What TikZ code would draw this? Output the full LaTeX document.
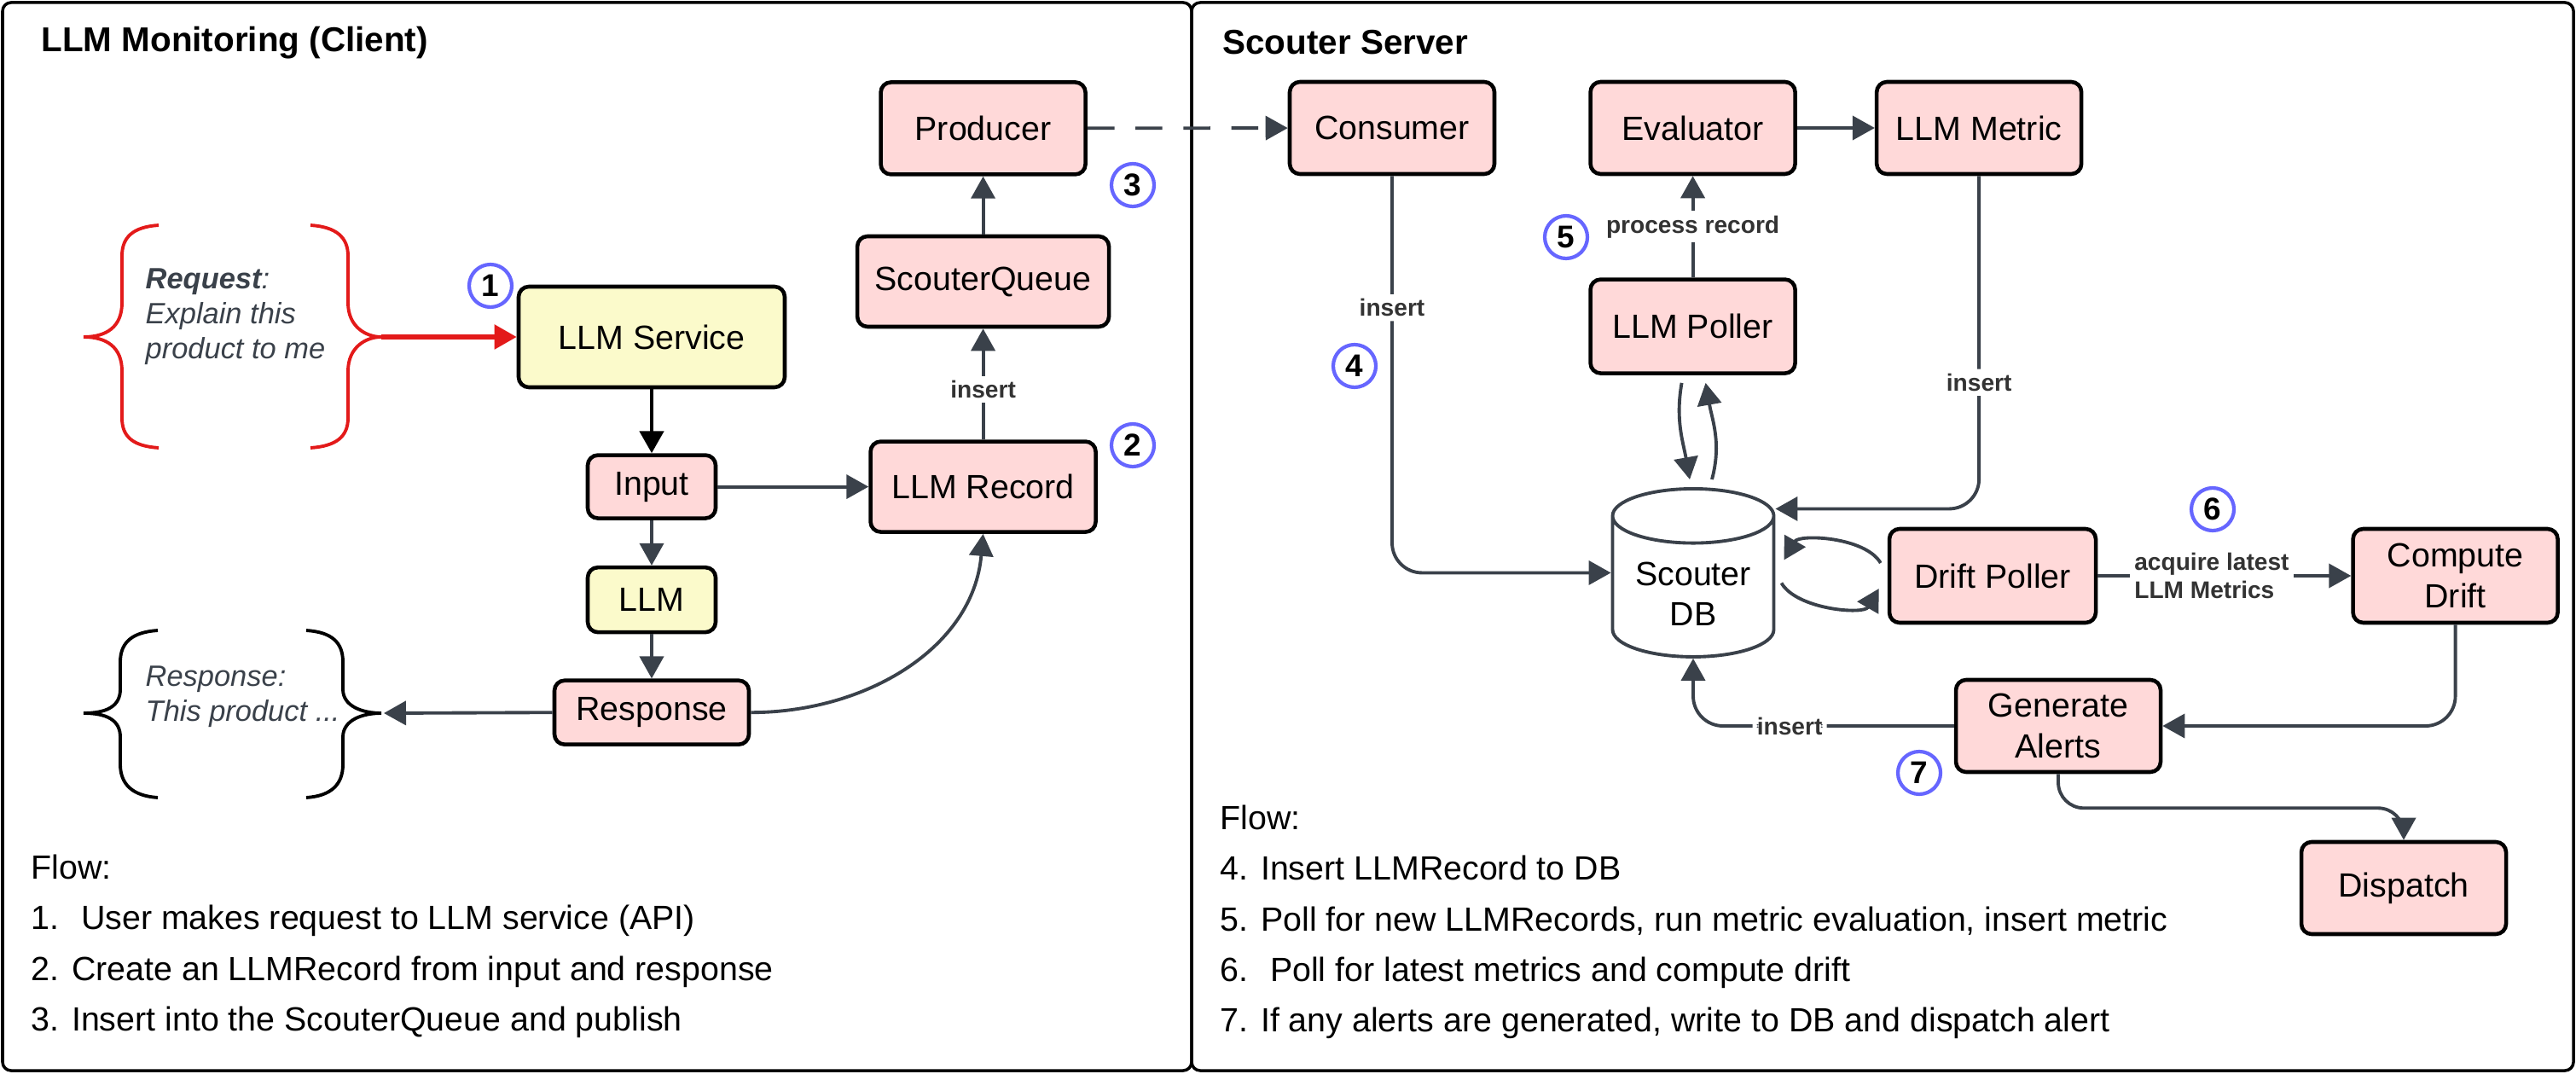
\documentclass[tikz,border=0pt]{standalone}
\usepackage{fontspec}
\setmainfont{Liberation Sans}
\usepackage{tikz}
\usetikzlibrary{shapes,arrows.meta}
\usetikzlibrary{calc,positioning}
\usepackage{xcolor}
\definecolor{pinkfill}{HTML}{FFD9D9}
\definecolor{yellowfill}{HTML}{FBFACB}
\definecolor{lineg}{HTML}{3A414A}
\definecolor{labelg}{HTML}{333333}
\definecolor{stepblue}{HTML}{6666FF}
\definecolor{reqred}{HTML}{E31A1A}
\newcommand{\nodefont}{\fontsize{11.2}{13.5}\selectfont}
\newcommand{\lblfont}{\fontsize{8}{9.6}\selectfont\bfseries}
\tikzstyle{arrow} = [line width=1.1pt, draw=lineg, -{Triangle[length=2.6mm,width=2.8mm]}]
\tikzset{
    block/.style = {draw, line width=1.3pt, fill=pinkfill, rectangle, rounded corners=1.2mm, minimum height=1.08cm, minimum width=2.4cm, align=center, font=\nodefont},
    yblock/.style = {block, fill=yellowfill},
    cyl/.style = {cylinder, shape border rotate=90, aspect=0.4, draw=lineg, line width=1.1pt, fill=white, minimum width=1.89cm, minimum height=1.97cm, align=center, font=\nodefont},
    stepnum/.style = {circle, draw=stepblue, line width=1.2pt, minimum size=0.5cm, inner sep=0pt, font=\fontsize{10.5}{12}\selectfont\bfseries},
    lbl/.style = {fill=white, text=labelg, font=\lblfont, inner sep=1.5pt},
    panel/.style = {draw, line width=1pt, rounded corners=1mm},
    brace/.style = {line width=1.1pt},
    flowtxt/.style = {anchor=north west, align=left, inner sep=0pt, font=\fontsize{11.2}{16.9}\selectfont},
}

\begin{document}
\begin{tikzpicture}[node distance=1cm]
    \useasboundingbox (0,0) rectangle (30.2,12.58);
    % panels
    \draw [panel] (0.03,0.03) rectangle (13.97,12.55);
    \draw [panel] (13.97,0.03) rectangle (30.17,12.55);
    \node [anchor=west, font=\fontsize{11.5}{13}\selectfont\bfseries] (titleL) at (0.36,12.08) {LLM Monitoring (Client)};
    \node [anchor=west, font=\fontsize{11.5}{13}\selectfont\bfseries] (titleR) at (14.21,12.08) {Scouter Server};

    % client side
    \node [yblock, minimum width=3.12cm, minimum height=1.18cm] (svc) at (7.64,8.63) {LLM Service};
    \node [block, below=0.75cm of svc, minimum width=1.5cm, minimum height=0.74cm] (input) {Input};
    \node [yblock, below=0.53cm of input, minimum width=1.5cm, minimum height=0.76cm] (llm) {LLM};
    \node [block, below=0.52cm of llm, minimum width=2.28cm, minimum height=0.75cm] (resp) {Response};
    \node [block, right=1.77cm of input, minimum width=2.64cm, minimum height=1.06cm] (rec) {LLM Record};
    \node [block, above=1.30cm of rec, minimum width=2.95cm, minimum height=1.06cm] (queue) {ScouterQueue};
    \node [block, above=0.68cm of queue] (prod) {Producer};

    % request / response braces
    \draw [brace, reqred] (1.86,9.94) .. controls (1.56,9.92) and (1.43,9.80) .. (1.43,9.58) -- (1.43,9.03) .. controls (1.43,8.75) and (1.25,8.63) .. (0.98,8.63) .. controls (1.25,8.63) and (1.43,8.51) .. (1.43,8.23) -- (1.43,7.68) .. controls (1.43,7.46) and (1.56,7.35) .. (1.86,7.33);
    \draw [brace, reqred] (3.64,9.94) .. controls (3.94,9.92) and (4.08,9.80) .. (4.08,9.58) -- (4.08,9.03) .. controls (4.08,8.75) and (4.29,8.63) .. (4.47,8.63) .. controls (4.29,8.63) and (4.08,8.51) .. (4.08,8.23) -- (4.08,7.68) .. controls (4.08,7.46) and (3.94,7.35) .. (3.64,7.33);
    \draw [brace] (1.85,5.19) .. controls (1.55,5.17) and (1.41,5.05) .. (1.41,4.82) -- (1.41,4.50) .. controls (1.41,4.30) and (1.25,4.22) .. (0.98,4.22) .. controls (1.25,4.22) and (1.41,4.14) .. (1.41,3.94) -- (1.41,3.62) .. controls (1.41,3.39) and (1.55,3.25) .. (1.85,3.23);
    \draw [brace] (3.59,5.19) .. controls (3.89,5.17) and (4.02,5.05) .. (4.02,4.82) -- (4.02,4.50) .. controls (4.02,4.30) and (4.25,4.22) .. (4.47,4.22) .. controls (4.25,4.22) and (4.02,4.14) .. (4.02,3.94) -- (4.02,3.62) .. controls (4.02,3.39) and (3.89,3.25) .. (3.59,3.23);
    \node [anchor=west, align=left, text=lineg, inner sep=0pt, font=\fontsize{9.8}{11.7}\selectfont\itshape] (reqtext) at (1.70,8.87) {\textbf{Request}:\\Explain this\\product to me};
    \node [anchor=west, align=left, text=lineg, inner sep=0pt, font=\fontsize{9.8}{11.7}\selectfont\itshape] (resptext) at (1.70,4.41) {Response:\\This product ...};
    \coordinate (reqtip) at (4.47,8.63);
    \coordinate (resptip) at (4.50,4.22);

    \draw [arrow, draw=reqred, line width=1.5pt] (reqtip) -- (svc.west);
    \draw [arrow, draw=black, line width=1.4pt] (svc) -- (input);
    \draw [arrow] (input) -- (llm);
    \draw [arrow] (llm) -- (resp);
    \draw [arrow] (resp.west) -- (resptip);
    \draw [arrow] (input) -- (rec);
    \draw [arrow] (resp.east) to [out=0, in=-95] (rec.south);
    \draw [arrow] (rec) -- node [lbl, pos=0.45] {insert} (queue);
    \draw [arrow] (queue) -- (prod);

    % server side
    \node [block] (cons) at (16.32,11.08) {Consumer};
    \node [block, right=1.08cm of cons] (eval) {Evaluator};
    \node [block, right=0.91cm of eval] (metric) {LLM Metric};
    \node [block, below=1.19cm of eval, minimum height=1.1cm] (llmpoll) {LLM Poller};
    \node [cyl] (db) at (19.85,5.62) {Scouter\\DB};
    \coordinate (dbe) at (db.east |- db.shape center);
    \coordinate (dbw) at (db.west |- db.shape center);
    \node [block, minimum width=2.42cm, minimum height=1.1cm] (drift) at (23.36,5.83) {Drift Poller};
    \node [block, right=2.97cm of drift, minimum height=1.1cm] (comp) {Compute\\Drift};
    \node [block] (alerts) at (24.13,4.07) {Generate\\Alerts};
    \node [block] (disp) at (28.18,2.17) {Dispatch};

    \draw [arrow, dash pattern=on 9pt off 7pt] (prod) -- (cons);
    \draw [arrow, rounded corners=3.5mm] (cons.south) |- node [lbl, pos=0.166] {insert} (dbw);
    \draw [arrow] (eval) -- (metric);
    \draw [arrow] (llmpoll) -- node [lbl] {process record} (eval);
    \draw [arrow, rounded corners=3.5mm] (metric.south) |- node [lbl, pos=0.31] {insert} ($(dbe)+(0,0.75)$);
    \draw [arrow] ($(llmpoll.south)+(-0.13,-0.09)$) to [out=-100, in=100] ($(db.north)+(-0.04,0.09)$);
    \draw [arrow] ($(db.north)+(0.22,0.09)$) to [out=75, in=-80] ($(llmpoll.south)+(0.15,-0.09)$);
    \draw [arrow] ($(drift.west)+(-0.08,0.15)$) to [out=120, in=60, looseness=0.8] ($(dbe)+(0.10,0.15)$);
    \draw [arrow] ($(dbe)+(0.07,-0.12)$) to [out=-60, in=-120, looseness=0.8] ($(drift.west)+(-0.10,-0.15)$);
    \draw [arrow] (drift) -- node [lbl, pos=0.45, align=left] {acquire latest\\LLM Metrics} (comp);
    \draw [arrow, rounded corners=3.5mm] (comp.south) |- (alerts.east);
    \draw [arrow, rounded corners=3.5mm] (alerts.west) -| node [lbl, pos=0.315] {insert} (db.south);
    \draw [arrow, rounded corners=3mm] (alerts.south) -- ++(0,-0.4) -| (disp.north);

    % step numbers
    \node [stepnum] (n1) at (5.75,9.23) {1};
    \node [stepnum] (n2) at (13.28,7.36) {2};
    \node [stepnum] (n3) at (13.28,10.41) {3};
    \node [stepnum] (n4) at (15.88,8.29) {4};
    \node [stepnum] (n5) at (18.36,9.80) {5};
    \node [stepnum] (n6) at (25.94,6.61) {6};
    \node [stepnum] (n7) at (22.50,3.52) {7};

    % flow notes
    \node [flowtxt] (flowL) at (0.36,2.57) {Flow:\\1.~ User makes request to LLM service (API)\\2. Create an LLMRecord from input and response\\3. Insert into the ScouterQueue and publish};
    \node [flowtxt] (flowR) at (14.30,3.15) {Flow:\\4. Insert LLMRecord to DB\\5. Poll for new LLMRecords, run metric evaluation, insert metric\\6.~ Poll for latest metrics and compute drift\\7. If any alerts are generated, write to DB and dispatch alert};
\end{tikzpicture}
\end{document}
